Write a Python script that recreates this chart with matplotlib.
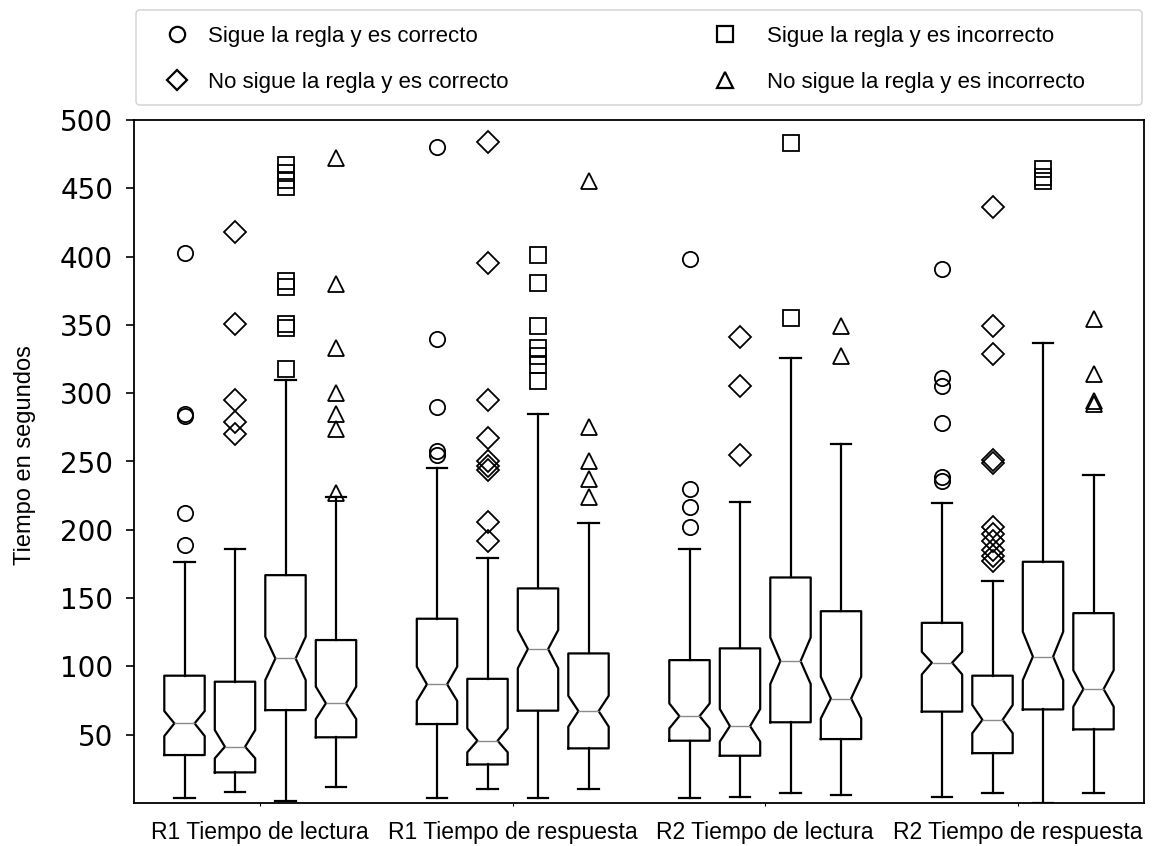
import matplotlib
matplotlib.use("Agg")
import matplotlib.pyplot as plt
from matplotlib.lines import Line2D
from matplotlib.patches import FancyBboxPatch

# ---- data ----
groups = ["R1 Tiempo de lectura", "R1 Tiempo de respuesta",
          "R2 Tiempo de lectura", "R2 Tiempo de respuesta"]
categories = ["Sigue la regla y es correcto", "No sigue la regla y es correcto",
              "Sigue la regla y es incorrecto", "No sigue la regla y es incorrecto"]
markers = ["o", "D", "s", "^"]

# per box (group-major order, 4 categories per group)
whislo = [3.4, 8.3, 1.4, 11.5,   3.4, 10.2, 3.4, 10.2,   3.4, 4.6, 7.1, 5.9,   4.6, 7.1, 0.3, 7.1]
q1     = [35.1, 22.4, 68.0, 48.1,  57.8, 28.2, 67.6, 40.0,  45.6, 34.6, 59.1, 46.8,  66.9, 36.5, 68.5, 53.9]
cilo   = [49.0, 32.7, 90.0, 61.5,  74.7, 37.1, 98.6, 55.9,  54.6, 44.9, 87.1, 61.9,  94.1, 51.1, 90.0, 70.5]
med    = [58.3, 41.2, 105.8, 73.0, 86.9, 45.6, 112.7, 67.3, 63.6, 56.3, 103.9, 76.5, 102.7, 60.9, 107.2, 83.4]
cihi   = [67.3, 53.4, 121.7, 85.2, 99.8, 54.6, 126.6, 78.5, 72.9, 68.8, 121.2, 92.4, 110.7, 71.8, 125.4, 97.2]
q3     = [93.2, 88.8, 166.8, 119.3, 134.9, 90.9, 157.1, 109.5, 104.6, 113.2, 165.1, 140.4, 131.9, 93.2, 176.6, 139.0]
whishi = [176.1, 185.6, 310.0, 224.0, 245.5, 179.0, 285.0, 205.1, 185.6, 220.0, 325.5, 263.0, 219.5, 162.7, 337.0, 240.0]
fliers = [
    [403, 285, 283, 212, 189],
    [418, 351, 295, 279, 270],
    [467, 461, 456, 451, 382, 378, 351, 348, 318],
    [472, 380, 333, 300, 285, 274, 227],
    [480, 340, 290, 258, 255],
    [484, 395, 295, 267, 250, 247, 244, 206, 192],
    [401, 381, 349, 333, 327, 321, 309],
    [455, 275, 250, 237, 224],
    [398, 230, 217, 202],
    [341, 305, 255],
    [483, 355],
    [349, 327],
    [391, 311, 305, 278, 239, 236],
    [436, 349, 329, 251, 249, 202, 197, 192, 185, 181, 177],
    [464, 458, 455],
    [354, 314, 294, 292],
]
yticks = [50, 100, 150, 200, 250, 300, 350, 400, 450, 500]

# ---- figure ----
W, H = 1158, 846
fig = plt.figure(figsize=(W / 100, H / 100), dpi=100)
ax = fig.add_axes([134 / W, 43 / H, 1010 / W, 683 / H])

n_cat = len(categories)
positions = []
for g in range(len(groups)):
    for c in range(n_cat):
        positions.append(1 + g * (n_cat + 1) + c)

for i in range(len(med)):
    c = i % n_cat
    stats = [dict(med=med[i], q1=q1[i], q3=q3[i], whislo=whislo[i], whishi=whishi[i],
                  cilo=cilo[i], cihi=cihi[i], fliers=fliers[i])]
    ax.bxp(stats, positions=[positions[i]], widths=0.8, shownotches=True,
           manage_ticks=False,
           boxprops=dict(color="black", linewidth=1.6),
           whiskerprops=dict(color="black", linewidth=1.6),
           capprops=dict(color="black", linewidth=1.6),
           medianprops=dict(color="#8a8a8a", linewidth=1.0),
           flierprops=dict(marker=markers[c], markersize=11, markerfacecolor="none",
                           markeredgecolor="black", markeredgewidth=1.3, linestyle="none"))

ax.set_xlim(0, 20)
ax.set_ylim(0, 500)
ax.set_yticks(yticks)
ax.set_yticklabels([str(v) for v in yticks], fontsize=20)
ax.tick_params(axis="y", length=6, width=1.2, pad=9)
centers = [1 + g * (n_cat + 1) + (n_cat - 1) / 2 for g in range(len(groups))]
ax.set_xticks(centers)
ax.set_xticklabels(groups, fontsize=16.5, family="Liberation Sans")
ax.tick_params(axis="x", length=2, pad=11)
for s in ax.spines.values():
    s.set_linewidth(1.3)
ax.set_ylabel("Tiempo en segundos", fontsize=17, family="Liberation Sans")
ax.yaxis.set_label_coords(-0.097, 0.51)

# ---- legend (two columns, framed box across the axes width) ----
frame = FancyBboxPatch((1.36, (H - 105) / 100), 10.06, 0.95,
                       boxstyle="round,pad=0,rounding_size=0.04",
                       transform=fig.dpi_scale_trans, facecolor="white",
                       edgecolor="0.82", linewidth=1.0, zorder=0)
fig.add_artist(frame)

handles = [Line2D([], [], marker=m, linestyle="none", markersize=11 if m != "D" else 10,
                  markerfacecolor="none", markeredgecolor="black", markeredgewidth=1.6)
           for m in markers]
fs = 16
px = fs * 100 / 72.0
ls = (45 - 0.91 * px) / px
legA = fig.legend(handles[:2], categories[:2], loc="center left",
                  bbox_to_anchor=((177 - px) / W, 1 - 59.5 / H),
                  prop=dict(family="Liberation Sans", size=fs), frameon=False,
                  borderpad=0, borderaxespad=0, handlelength=2.0,
                  handletextpad=(208 - 177 - px) / px, labelspacing=ls)
legB = fig.legend(handles[2:], categories[2:], loc="center left",
                  bbox_to_anchor=((725 - px) / W, 1 - 59.5 / H),
                  prop=dict(family="Liberation Sans", size=fs), frameon=False,
                  borderpad=0, borderaxespad=0, handlelength=2.0,
                  handletextpad=(767 - 725 - px) / px, labelspacing=ls)

fig.savefig("out.png", dpi=100)
